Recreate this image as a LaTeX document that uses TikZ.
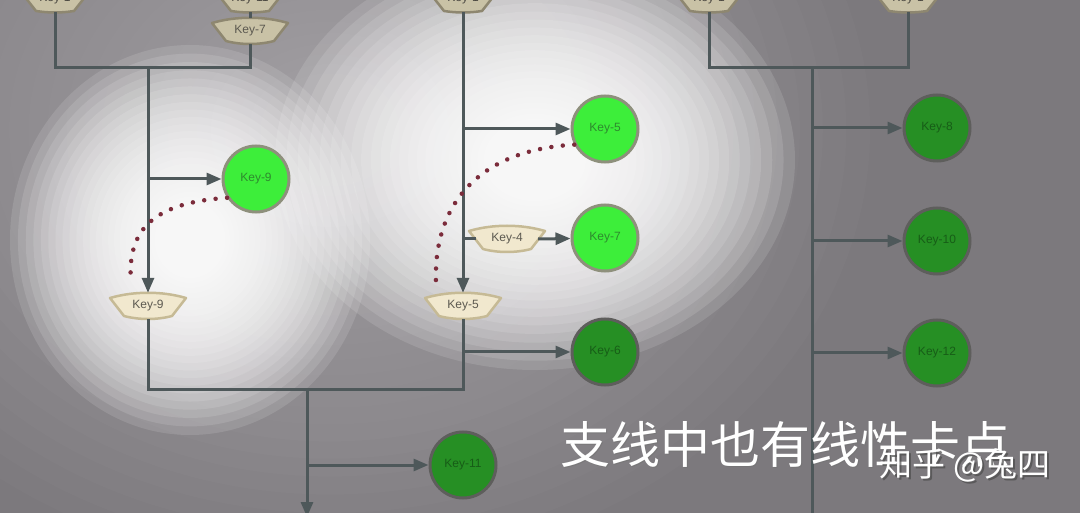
\documentclass[tikz,border=0pt]{standalone}
\usepackage{fontspec}
\setmainfont{Liberation Sans}
\newfontfamily\cjk{Noto Sans CJK SC}
\usetikzlibrary{arrows.meta,calc}

\definecolor{bg}{HTML}{7C797D}
\definecolor{haze}{HTML}{B2AFB3}
\definecolor{linec}{HTML}{4E585A}
\definecolor{fanfill}{HTML}{F1E8CE}
\definecolor{fanedge}{HTML}{C6BA95}
\definecolor{fantextc}{HTML}{5C5950}
\definecolor{topfill}{HTML}{C9C2A6}
\definecolor{topedge}{HTML}{8E8770}
\definecolor{brightg}{HTML}{3DEE3A}
\definecolor{brightedge}{HTML}{8E907C}
\definecolor{brighttext}{HTML}{2E8A2E}
\definecolor{darkg}{HTML}{268F24}
\definecolor{darkedge}{HTML}{5E5E5C}
\definecolor{darktext}{HTML}{175D17}
\definecolor{dotc}{HTML}{7B2C3B}

\tikzset{
  line/.style={draw=linec, line width=3pt},
  arr/.style={line, -{Triangle[length=15pt,width=12pt]}},
  keyfont/.style={font=\fontsize{12}{14}\selectfont},
  fantext/.style={keyfont, inner sep=0pt, minimum width=62pt, minimum height=26pt, text=fantextc},
  fanshape/.style={fill=fanfill, draw=fanedge, line width=2.5pt, line join=round},
  topshape/.style={fill=topfill, draw=topedge, line width=2.5pt, line join=round},
  toptext/.style={keyfont, inner sep=0pt, minimum width=50pt, minimum height=26pt, text=fantextc!80!black},
  bright/.style={circle, keyfont, fill=brightg, draw=brightedge, line width=3pt, minimum size=66pt, inner sep=0pt, text=brighttext},
  darkc/.style={circle, keyfont, fill=darkg, draw=darkedge, line width=3pt, minimum size=66pt, inner sep=0pt, text=darktext},
  dots/.style={draw=dotc, line width=4.5pt, line cap=round, dash pattern=on 0pt off 11.5pt},
}

% soft glow: centre, x radius, y radius, colour, opacity per layer
\newcommand\glow[5]{%
  \foreach \gi in {1,...,36}{%
    \pgfmathsetmacro\gf{(\gi/36)^1.6}%
    \fill[#4, opacity=#5] #1 ellipse ({#2*\gf} and {#3*\gf});}}

% fan (annular-sector like) node: name, position, text, shape style
\newcommand\fannode[4]{%
  \path[#4] ($#2+(-38,8)$) .. controls ($#2+(-14,15)$) and ($#2+(14,15)$) .. ($#2+(38,8)$)
     -- ($#2+(24,-10)$) .. controls ($#2+(9,-14)$) and ($#2+(-9,-14)$) .. ($#2+(-24,-10)$) -- cycle;
  \node[fantext] (#1) at #2 {#3};}
% top node, cut by the upper edge
\newcommand\topnode[3]{%
  \path[topshape] ($#2+(-34,16)$) -- ($#2+(-30,2)$) -- ($#2+(-19,-12)$)
     .. controls ($#2+(-6,-14)$) and ($#2+(6,-14)$) .. ($#2+(19,-12)$)
     -- ($#2+(30,2)$) -- ($#2+(34,16)$) -- cycle;
  \node[toptext] (#1) at #2 {#3};}

\begin{document}
\begin{tikzpicture}[x=1pt,y=1pt]
\useasboundingbox (0,0) rectangle (1080,-513);
\clip (0,0) rectangle (1080,-513);

% background and spotlights
\fill[bg] (0,0) rectangle (1080,-513);
\glow{(330,-130)}{540}{440}{haze}{0.05}
\glow{(190,-240)}{180}{195}{white}{0.12}
\glow{(535,-160)}{260}{210}{white}{0.12}

% top nodes (cut off)
\topnode{t1}{(55,1)}{Key-1}
\topnode{t2}{(250,1)}{Key-11}
\topnode{t3}{(463,1)}{Key-1}
\topnode{t4}{(709,1)}{Key-1}
\topnode{t5}{(908,1)}{Key-1}

% fans
\fannode{k7}{(250,-31)}{Key-7}{topshape}
\fannode{f9}{(148,-306)}{Key-9}{fanshape}
\fannode{f5}{(463,-306)}{Key-5}{fanshape}
\fannode{k4}{(507,-239)}{Key-4}{fanshape}

% circles
\node[bright] (c9) at (256,-179) {Key-9};
\node[bright] (c5) at (605,-129) {Key-5};
\node[bright] (c7) at (605,-238) {Key-7};
\node[darkc] (c6) at (605,-352) {Key-6};
\node[darkc] (c11) at (463,-465) {Key-11};
\node[darkc] (c8) at (937,-128) {Key-8};
\node[darkc] (c10) at (937,-241) {Key-10};
\node[darkc] (c12) at (937,-353) {Key-12};

% junction coordinates
\coordinate (j1) at (148,-68);
\coordinate (j2) at (307,-389);
\coordinate (j3) at (812,-68);
\coordinate (bot1) at (307,-517);
\coordinate (bot2) at (812,-520);

% left group
\draw[line] (t2.south) -- (k7.north);
\draw[line] (t1.south) |- (j1) -| (k7.south);
\draw[arr] (j1) -- (f9.north);
\draw[arr] (j1 |- c9) -- (c9);

% centre group
\draw[arr] (t3.south) -- (f5.north);
\draw[arr] (t3 |- c5) -- (c5);
\draw[line] (t3 |- k4) -- (k4.west);
\draw[arr] (k4.east) -- (c7);
\draw[arr] (f5 |- c6) -- (c6);

% merge
\draw[line] (f9.south) |- (j2) -| (f5.south);
\draw[arr] (j2) -- (bot1);
\draw[arr] (j2 |- c11) -- (c11);

% right group
\draw[line] (t4.south) |- (j3) -| (t5.south);
\draw[line] (j3) -- (bot2);
\draw[arr] (j3 |- c8) -- (c8);
\draw[arr] (j3 |- c10) -- (c10);
\draw[arr] (j3 |- c12) -- (c12);

% dotted dependency curves
\coordinate (e9) at (131,-283);
\coordinate (e5) at (436,-283);
\draw[dots] (c9.213) .. controls (150,-203) and (127,-232) .. (e9);
\draw[dots] (c5.207) .. controls (478,-150) and (433,-205) .. (e5);

% captions
\node[text=black!55, opacity=0.6] at (786.5,-445.5) {\cjk\fontsize{50}{56}\selectfont 支线中也有线性卡点};
\node[text=white] (cap) at (785,-444) {\cjk\fontsize{50}{56}\selectfont 支线中也有线性卡点};
\node[text=black!70, opacity=0.7] at (967,-467) {\cjk\fontsize{33}{38}\selectfont 知乎 @兔四};
\node[text=white] (wm) at (965,-465) {\cjk\fontsize{33}{38}\selectfont 知乎 @兔四};
\end{tikzpicture}
\end{document}
